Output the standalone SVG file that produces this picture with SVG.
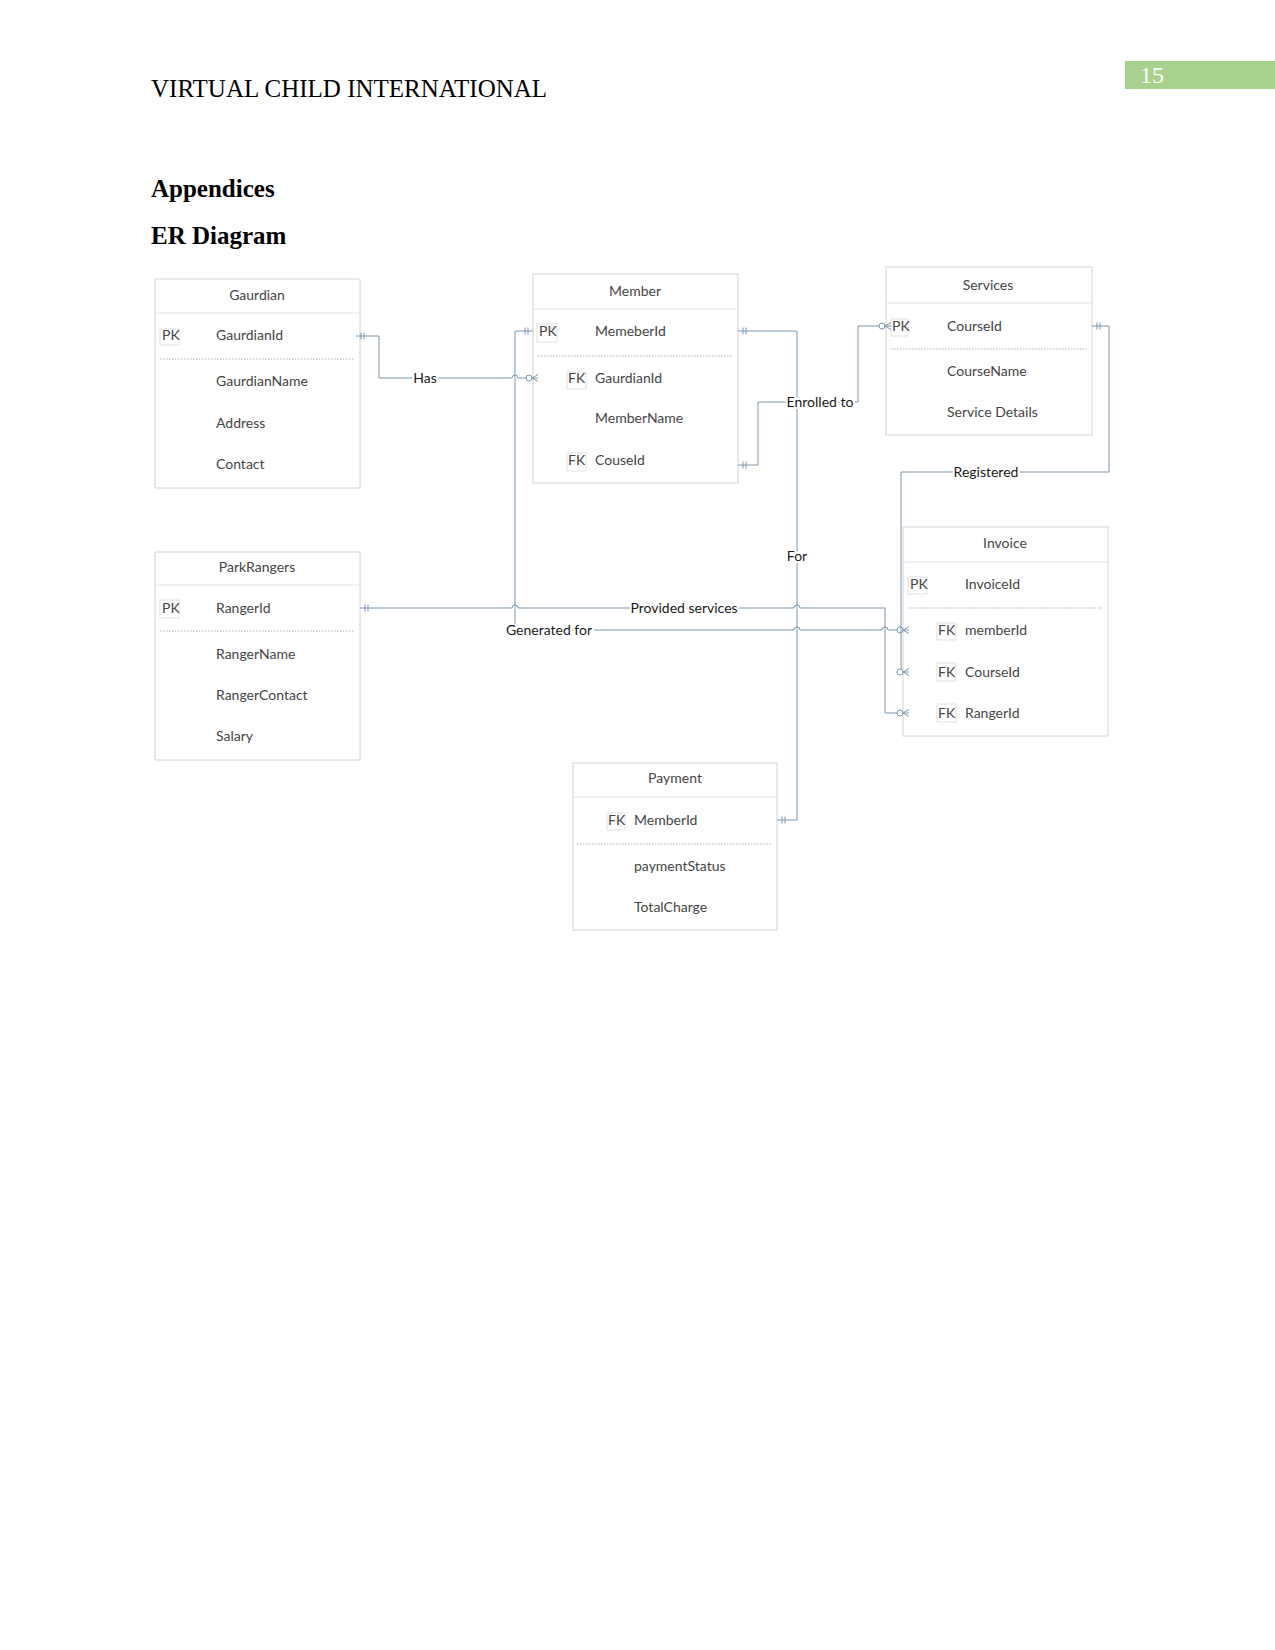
<svg xmlns="http://www.w3.org/2000/svg" width="1275" height="1650" viewBox="0 0 1275 1650">
<defs>
<style>
.hdr{font-family:"Liberation Serif",serif;fill:#000}
.box{fill:#fff;stroke:#d4d4d4;stroke-width:1}
.div{stroke:#e4e4e4;stroke-width:1}
.dot{stroke:#9a9a9a;stroke-width:0.8;stroke-dasharray:1.5 1.5}
.key{fill:#fff;stroke:#e2e2e2;stroke-width:1}
.t{font-family:Lato,"Noto Sans",sans-serif;font-size:14px;fill:#454545}
.tc{text-anchor:middle}
.ln{fill:none;stroke:#7d97b3;stroke-width:1}
.lbl{font-family:Lato,"Noto Sans",sans-serif;font-size:14px;fill:#1a1a1a;text-anchor:middle;stroke:#fff;stroke-width:4;paint-order:stroke;stroke-linejoin:round}
</style>
<marker id="one" markerUnits="userSpaceOnUse" orient="auto-start-reverse" refX="0" refY="0" markerWidth="20" markerHeight="20" overflow="visible">
<path d="M-5 -3.5 V3.5 M-8 -3.5 V3.5" stroke="#7d97b3" stroke-width="1" fill="none"/>
</marker>
<marker id="many0" markerUnits="userSpaceOnUse" orient="auto-start-reverse" refX="0" refY="0" markerWidth="20" markerHeight="20" overflow="visible">
<path d="M0 -3.5 L-6 0 L0 3.5" stroke="#7d97b3" stroke-width="1" fill="none"/>
<circle cx="-9" cy="0" r="3" fill="#fff" stroke="#7d97b3" stroke-width="1"/>
</marker>
</defs>
<rect width="1275" height="1650" fill="#fff"/>

<g id="page-header">
<text class="hdr" x="151" y="97" font-size="25">VIRTUAL CHILD INTERNATIONAL</text>
<rect x="1125" y="61" width="150" height="28" fill="#a9d18e"/>
<text class="hdr" x="1140" y="83" font-size="24" style="fill:#fff">15</text>
<text class="hdr" x="151" y="197" font-size="25" font-weight="bold">Appendices</text>
<text class="hdr" x="151" y="244" font-size="25" font-weight="bold">ER Diagram</text>
</g>

<g id="gaurdian">
<rect class="box" x="155" y="279" width="205" height="209"/>
<line class="div" x1="155" y1="313" x2="360" y2="313"/>
<text class="t tc" x="257" y="300">Gaurdian</text>
<rect class="key" x="160" y="329" width="19" height="16"/>
<text class="t" x="162" y="340">PK</text>
<text class="t" x="216" y="340">GaurdianId</text>
<line class="dot" x1="160" y1="359" x2="355" y2="359"/>
<text class="t" x="216" y="386">GaurdianName</text>
<text class="t" x="216" y="428">Address</text>
<text class="t" x="216" y="469">Contact</text>
</g>

<g id="member">
<rect class="box" x="533" y="274" width="205" height="209"/>
<line class="div" x1="533" y1="309" x2="738" y2="309"/>
<text class="t tc" x="635" y="296">Member</text>
<rect class="key" x="537" y="324" width="20" height="18"/>
<text class="t" x="539" y="336">PK</text>
<text class="t" x="595" y="336">MemeberId</text>
<line class="dot" x1="538" y1="356" x2="732" y2="356"/>
<rect class="key" x="567" y="372" width="19" height="17"/>
<text class="t" x="568" y="383">FK</text>
<text class="t" x="595" y="383">GaurdianId</text>
<text class="t" x="595" y="423">MemberName</text>
<rect class="key" x="567" y="453" width="19" height="18"/>
<text class="t" x="568" y="465">FK</text>
<text class="t" x="595" y="465">CouseId</text>
</g>

<g id="services">
<rect class="box" x="886" y="267" width="206" height="168"/>
<line class="div" x1="886" y1="303" x2="1092" y2="303"/>
<text class="t tc" x="988" y="290">Services</text>
<rect class="key" x="891" y="319" width="17" height="17"/>
<text class="t" x="892" y="331">PK</text>
<text class="t" x="947" y="331">CourseId</text>
<line class="dot" x1="891" y1="349" x2="1087" y2="349"/>
<text class="t" x="947" y="376">CourseName</text>
<text class="t" x="947" y="417">Service Details</text>
</g>

<g id="parkrangers">
<rect class="box" x="155" y="552" width="205" height="208"/>
<line class="div" x1="155" y1="585" x2="360" y2="585"/>
<text class="t tc" x="257" y="572">ParkRangers</text>
<rect class="key" x="160" y="600" width="19" height="18"/>
<text class="t" x="162" y="613">PK</text>
<text class="t" x="216" y="613">RangerId</text>
<line class="dot" x1="160" y1="631" x2="355" y2="631"/>
<text class="t" x="216" y="659">RangerName</text>
<text class="t" x="216" y="700">RangerContact</text>
<text class="t" x="216" y="741">Salary</text>
</g>

<g id="invoice">
<rect class="box" x="903" y="527" width="205" height="209"/>
<line class="div" x1="903" y1="562" x2="1108" y2="562"/>
<text class="t tc" x="1005" y="548">Invoice</text>
<rect class="key" x="908" y="577" width="19" height="17"/>
<text class="t" x="910" y="589">PK</text>
<text class="t" x="965" y="589">InvoiceId</text>
<line class="dot" x1="908" y1="608" x2="1103" y2="608"/>
<rect class="key" x="937" y="623" width="19" height="17"/>
<text class="t" x="938" y="635">FK</text>
<text class="t" x="965" y="635">memberId</text>
<rect class="key" x="937" y="663" width="19" height="18"/>
<text class="t" x="938" y="677">FK</text>
<text class="t" x="965" y="677">CourseId</text>
<rect class="key" x="937" y="704" width="19" height="18"/>
<text class="t" x="938" y="718">FK</text>
<text class="t" x="965" y="718">RangerId</text>
</g>

<g id="payment">
<rect class="box" x="573" y="763" width="204" height="167"/>
<line class="div" x1="573" y1="797" x2="777" y2="797"/>
<text class="t tc" x="675" y="783">Payment</text>
<rect class="key" x="607" y="813" width="18" height="17"/>
<text class="t" x="608" y="825">FK</text>
<text class="t" x="634" y="825">MemberId</text>
<line class="dot" x1="577" y1="844" x2="772" y2="844"/>
<text class="t" x="634" y="871">paymentStatus</text>
<text class="t" x="634" y="912">TotalCharge</text>
</g>

<g id="connectors">
<path class="ln" d="M356 336 H379 V378 H512 a3 3 0 0 1 6 0 H538" marker-start="url(#one)" marker-end="url(#many0)"/>
<path class="ln" d="M533 331 H515 V630 H794 a3 3 0 0 1 6 0 H882 a3 3 0 0 1 6 0 H909" marker-start="url(#one)" marker-end="url(#many0)"/>
<path class="ln" d="M360 608 H512 a3 3 0 0 1 6 0 H794 a3 3 0 0 1 6 0 H885 V713 H909" marker-start="url(#one)" marker-end="url(#many0)"/>
<path class="ln" d="M738 331 H797 V820 H777" marker-start="url(#one)" marker-end="url(#one)"/>
<path class="ln" d="M738 465 H758 V402 H858 V326 H891" marker-start="url(#one)" marker-end="url(#many0)"/>
<path class="ln" d="M1092 326 H1109 V472 H901 V672 H909" marker-start="url(#one)" marker-end="url(#many0)"/>
<text class="lbl" x="425" y="383">Has</text>
<text class="lbl" x="549" y="635">Generated for</text>
<text class="lbl" x="684" y="613">Provided services</text>
<text class="lbl" x="797" y="561">For</text>
<text class="lbl" x="820" y="407">Enrolled to</text>
<text class="lbl" x="986" y="477">Registered</text>
</g>
</svg>
